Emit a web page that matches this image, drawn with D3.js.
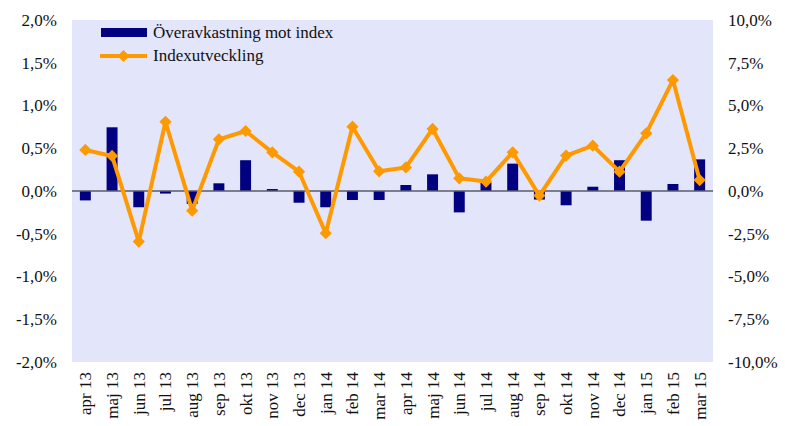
<!DOCTYPE html>
<html>
<head>
<meta charset="utf-8">
<script src="https://cdn.jsdelivr.net/npm/d3@7"></script>
<style>
  body { margin: 0; background: #fff; }
</style>
</head>
<body>
<svg id="chart" width="785" height="426"></svg>
<script>
// kategorier (månader)
var manader = ["apr 13","maj 13","jun 13","jul 13","aug 13","sep 13","okt 13","nov 13","dec 13","jan 14","feb 14","mar 14",
               "apr 14","maj 14","jun 14","jul 14","aug 14","sep 14","okt 14","nov 14","dec 14","jan 15","feb 15","mar 15"];
// överavkastning mot index (%), vänster axel
var overavkastning = [-0.11, 0.745, -0.19, -0.03, -0.15, 0.09, 0.36, 0.023, -0.137, -0.19, -0.105, -0.105,
                      0.07, 0.195, -0.25, 0.10, 0.32, -0.10, -0.167, 0.05, 0.36, -0.347, 0.082, 0.37];
// indexutveckling (%), höger axel
var indexutveckling = [2.40, 2.05, -2.96, 4.05, -1.15, 3.02, 3.51, 2.26, 1.13, -2.47, 3.76, 1.15,
                       1.38, 3.63, 0.74, 0.55, 2.26, -0.27, 2.07, 2.65, 1.13, 3.37, 6.49, 0.64];
var vansterTicks = [2, 1.5, 1, 0.5, 0, -0.5, -1, -1.5, -2];
var hogerTicks = [10, 7.5, 5, 2.5, 0, -2.5, -5, -7.5, -10];

var svg = d3.select("#chart");
var m = {left: 72, right: 713, top: 20, bottom: 362};
var FONT = "'Liberation Serif'";
var FS = 17;

var x = d3.scaleBand().domain(manader).range([m.left, m.right]).paddingInner(0.59).paddingOuter(0.295);
var yL = d3.scaleLinear().domain([-2, 2]).range([m.bottom, m.top]);
var yR = d3.scaleLinear().domain([-10, 10]).range([m.bottom, m.top]);
var fmt = function (d) { return d3.format(".1f")(d).replace(".", ",").replace("−", "-") + "%"; };

// plotyta
svg.append("rect").attr("x", m.left).attr("y", m.top)
  .attr("width", m.right - m.left).attr("height", m.bottom - m.top).attr("fill", "#E3E5FB");

// staplar
svg.append("g").selectAll("rect").data(overavkastning).join("rect")
  .attr("x", function (d, i) { return x(manader[i]); })
  .attr("y", function (d) { return yL(Math.max(0, d)); })
  .attr("width", x.bandwidth())
  .attr("height", function (d) { return Math.abs(yL(d) - yL(0)); })
  .attr("fill", "#000080");

// nollinje
svg.append("line").attr("x1", m.left).attr("x2", m.right)
  .attr("y1", yL(0)).attr("y2", yL(0)).attr("stroke", "#5a5a6a").attr("stroke-width", 1.5);

// linje
var cx = function (d, i) { return x(manader[i]) + x.bandwidth() / 2; };
var line = d3.line().x(cx).y(function (d) { return yR(d); });
svg.append("path").datum(indexutveckling).attr("d", line)
  .attr("fill", "none").attr("stroke", "#FF9900").attr("stroke-width", 4).attr("stroke-linejoin", "round");

var diamond = d3.symbol().type(d3.symbolDiamond2).size(95);
svg.append("g").selectAll("path").data(indexutveckling).join("path")
  .attr("transform", function (d, i) { return "translate(" + cx(d, i) + "," + yR(d) + ")"; })
  .attr("d", diamond).attr("fill", "#FF9900");

// axlar
var axL = svg.append("g").attr("transform", "translate(" + (m.left - 15) + ",0)")
  .call(d3.axisLeft(yL).tickValues(vansterTicks).tickFormat(fmt).tickSize(0).tickPadding(0));
var axR = svg.append("g").attr("transform", "translate(" + (m.right + 15) + ",0)")
  .call(d3.axisRight(yR).tickValues(hogerTicks).tickFormat(fmt).tickSize(0).tickPadding(0));
var axX = svg.append("g").attr("transform", "translate(0," + (m.bottom + 10) + ")")
  .call(d3.axisBottom(x).tickSize(0).tickPadding(0));
[axL, axR, axX].forEach(function (a) {
  a.select(".domain").remove();
  a.selectAll("text").attr("fill", "#111").attr("font-family", FONT).attr("font-size", FS);
});
axX.selectAll("text").attr("transform", "rotate(-90)").attr("text-anchor", "end")
  .attr("x", 0).attr("y", 0).attr("dx", 0).attr("dy", "0.35em");

// legend
var leg = svg.append("g");
leg.append("rect").attr("x", 101).attr("y", 28).attr("width", 46).attr("height", 9).attr("fill", "#000080");
leg.append("text").attr("x", 153).attr("y", 38).text("Överavkastning mot index");
leg.append("line").attr("x1", 100).attr("x2", 147).attr("y1", 56).attr("y2", 56)
  .attr("stroke", "#FF9900").attr("stroke-width", 4);
leg.append("path").attr("transform", "translate(123.5,56)").attr("d", diamond).attr("fill", "#FF9900");
leg.append("text").attr("x", 153).attr("y", 61).text("Indexutveckling");
leg.selectAll("text").attr("fill", "#111").attr("font-family", FONT).attr("font-size", FS);
</script>
</body>
</html>
